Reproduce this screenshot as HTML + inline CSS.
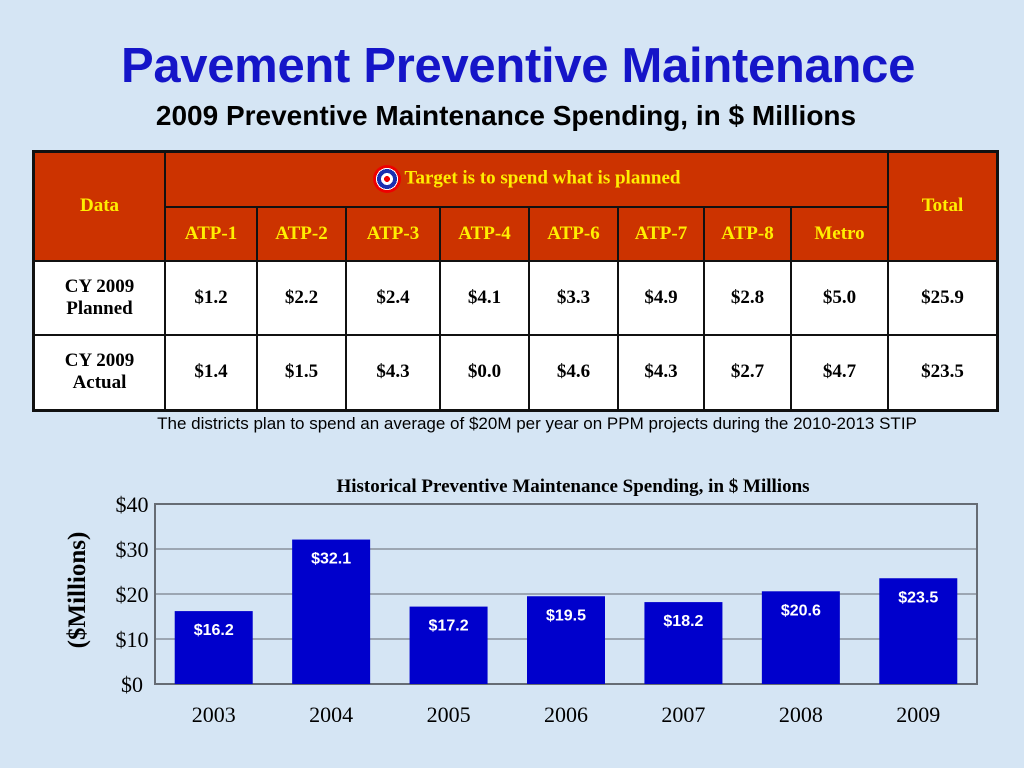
<!DOCTYPE html>
<html><head><meta charset="utf-8"><style>
body{margin:0;width:1024px;height:768px;overflow:hidden;background:#d5e5f4;font-family:"Liberation Serif",serif;position:relative}
.abs{position:absolute}
#title{left:0;width:1036px;top:38px;text-align:center;font:bold 49px "Liberation Sans",sans-serif;color:#1515c8;letter-spacing:-0.3px}
#sub{left:0;width:1012px;top:100px;text-align:center;font:bold 28px "Liberation Sans",sans-serif;color:#000}
table{position:absolute;left:32px;top:150px;width:967px;height:260px;border-collapse:collapse;border:3px solid #111}
td{border:2px solid #111;text-align:center;font-weight:bold;font-size:19px;padding:0}
.h{background:#cc3300;color:#ffee00}
.w{background:#fff;color:#000}
#note{left:0;width:1074px;top:414px;text-align:center;font:17px "Liberation Sans",sans-serif}
</style></head><body>
<div class="abs" id="title">Pavement Preventive Maintenance</div>
<div class="abs" id="sub">2009 Preventive Maintenance Spending, in $ Millions</div>
<table>
<tr style="height:55px"><td class="h" rowspan="2" style="width:129px">Data</td>
<td class="h" colspan="8"><span style="display:inline-block;width:28px;height:28px;border-radius:50%;background:radial-gradient(circle,#e00 0 3px,#fff 3px 6px,#1a2fb0 6px 10px,#fff 10px 11px,#e00 11px);vertical-align:middle;margin-right:4px"></span>Target is to spend what is planned</td>
<td class="h" rowspan="2" style="width:107px">Total</td></tr>
<tr style="height:54px"><td class="h" style="width:90px">ATP-1</td><td class="h" style="width:87px">ATP-2</td><td class="h" style="width:92px">ATP-3</td><td class="h" style="width:87px">ATP-4</td><td class="h" style="width:87px">ATP-6</td><td class="h" style="width:84px">ATP-7</td><td class="h" style="width:85px">ATP-8</td><td class="h">Metro</td></tr>
<tr style="height:74px"><td class="w">CY 2009<br>Planned</td><td class="w">$1.2</td><td class="w">$2.2</td><td class="w">$2.4</td><td class="w">$4.1</td><td class="w">$3.3</td><td class="w">$4.9</td><td class="w">$2.8</td><td class="w">$5.0</td><td class="w">$25.9</td></tr>
<tr style="height:76px"><td class="w">CY 2009<br>Actual</td><td class="w">$1.4</td><td class="w">$1.5</td><td class="w">$4.3</td><td class="w">$0.0</td><td class="w">$4.6</td><td class="w">$4.3</td><td class="w">$2.7</td><td class="w">$4.7</td><td class="w">$23.5</td></tr>
</table>
<div class="abs" id="note">The districts plan to spend an average of $20M per year on PPM projects during the 2010-2013 STIP</div>
<svg class="abs" style="left:0;top:0" width="1024" height="768" id="chart"></svg>
<script>
const years=["2003","2004","2005","2006","2007","2008","2009"];
const spending=[16.2,32.1,17.2,19.5,18.2,20.6,23.5];
const ticks=[0,10,20,30,40];
const NS="http://www.w3.org/2000/svg",svg=document.getElementById('chart');
const X0=155,X1=977,Y0=684,Y1=504,MAX=40;
const y=v=>Y0-(v/MAX)*(Y0-Y1);
const step=(X1-X0)/years.length;
const x=i=>X0+step*i+step/2;
function mk(t,a,txt){const e=document.createElementNS(NS,t);for(const k in a)e.setAttribute(k,a[k]);if(txt!=null)e.textContent=txt;svg.appendChild(e);return e;}
let e=mk('text',{x:573,y:492,'text-anchor':'middle','font-family':'Liberation Serif','font-weight':'bold','font-size':19},'Historical Preventive Maintenance Spending, in $ Millions');


ticks.forEach(t=>{
 if(t>0){const g=mk('line',{x1:X0,x2:X1,y1:y(t),y2:y(t),stroke:'#8a929c','stroke-width':1.5});
 
 }
 const l=mk('text',{x:132,y:y(t)+8,'text-anchor':'middle','font-family':'Liberation Serif','font-size':22},'$'+t);
 
 
});
e=mk('rect',{x:X0,y:Y1,width:X1-X0,height:Y0-Y1,fill:'none',stroke:'#666c74','stroke-width':2});


e=mk('text',{x:0,y:0,transform:'translate(85,590) rotate(-90)','text-anchor':'middle','font-family':'Liberation Serif','font-weight':'bold','font-size':25},'($Millions)');


spending.forEach((v,i)=>{
 const b=mk('rect',{x:x(i)-39,y:y(v),width:78,height:Y0-y(v),fill:'#0000cc'});
 
 
 const t=mk('text',{x:x(i),y:y(v)+24,'text-anchor':'middle','font-family':'Liberation Sans','font-weight':'bold','font-size':16,fill:'#fff'},'$'+v.toFixed(1));
 
 
 const c=mk('text',{x:x(i),y:722,'text-anchor':'middle','font-family':'Liberation Serif','font-size':22},years[i]);
 
 
});
</script>
</body></html>
